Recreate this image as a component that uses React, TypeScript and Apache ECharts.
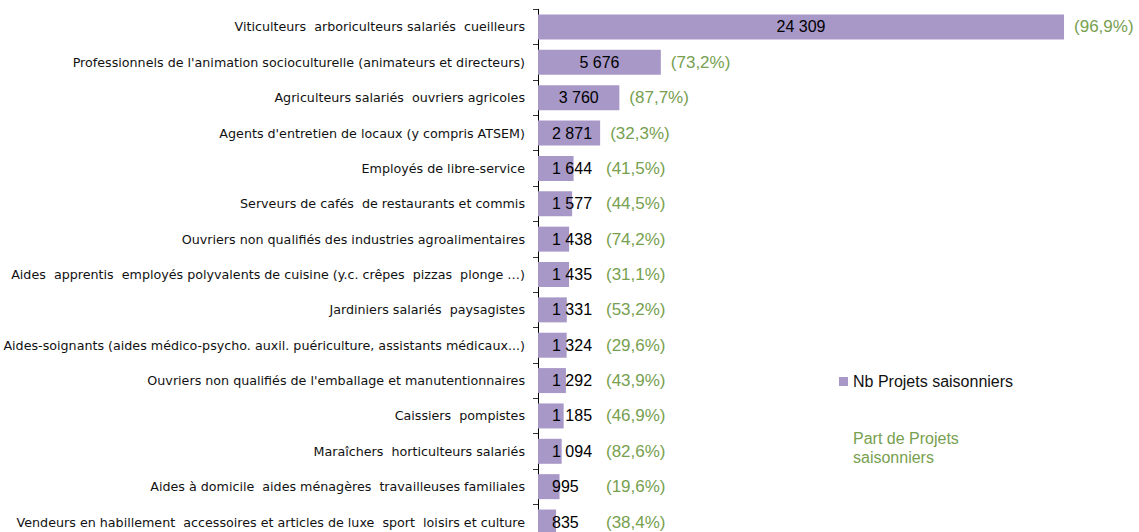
import React, { useEffect, useRef } from "react";
import * as echarts from "echarts";

const categories = [
  "Viticulteurs  arboriculteurs salariés  cueilleurs",
  "Professionnels de l'animation socioculturelle (animateurs et directeurs)",
  "Agriculteurs salariés  ouvriers agricoles",
  "Agents d'entretien de locaux (y compris ATSEM)",
  "Employés de libre-service",
  "Serveurs de cafés  de restaurants et commis",
  "Ouvriers non qualifiés des industries agroalimentaires",
  "Aides  apprentis  employés polyvalents de cuisine (y.c. crêpes  pizzas  plonge …)",
  "Jardiniers salariés  paysagistes",
  "Aides-soignants (aides médico-psycho. auxil. puériculture, assistants médicaux...)",
  "Ouvriers non qualifiés de l'emballage et manutentionnaires",
  "Caissiers  pompistes",
  "Maraîchers  horticulteurs salariés",
  "Aides à domicile  aides ménagères  travailleuses familiales",
  "Vendeurs en habillement  accessoires et articles de luxe  sport  loisirs et culture",
];

const projets = [24309, 5676, 3760, 2871, 1644, 1577, 1438, 1435, 1331, 1324, 1292, 1185, 1094, 995, 835];
const parts = [96.9, 73.2, 87.7, 32.3, 41.5, 44.5, 74.2, 31.1, 53.2, 29.6, 43.9, 46.9, 82.6, 19.6, 38.4];

const seriesNames = ["Nb Projets saisonniers", "Part de Projets saisonniers"];

const FONT = "'Liberation Sans', Arial, sans-serif";
const CAT_FONT = "'DejaVu Sans', sans-serif";
const PURPLE = "#a898c8";
const GREEN = "#77a04f";

const fmtNum = (v: number) => String(v).replace(/\B(?=(\d{3})+(?!\d))/g, " ");
const fmtPct = (p: number) => `(${p.toFixed(1).replace(".", ",")}%)`;

export default function App() {
  const ref = useRef<HTMLDivElement>(null);

  useEffect(() => {
    if (!ref.current) return;
    const chart = echarts.init(ref.current, undefined, { renderer: "svg" });

    const numberData = () =>
      projets.map((v) => ({
        value: v,
        label:
          v < 3000
            ? { position: "insideLeft" as const, distance: 14 }
            : { position: "inside" as const },
      }));

    const pctData = (offsets: number[] | null) =>
      projets.map((v, i) => ({
        value: v,
        label: { offset: [offsets ? offsets[i] : 0, 0] },
      }));

    const build = (offsets: number[] | null) => ({
      animation: false,
      backgroundColor: "#fff",
      textStyle: { fontFamily: FONT },
      grid: { left: 538, top: 9.3, width: 541, height: 530.4, containLabel: false },
      xAxis: { type: "value", min: 0, max: 25000, show: false },
      yAxis: {
        type: "category",
        inverse: true,
        data: categories,
        axisLine: { show: true, lineStyle: { color: "#000", width: 1 } },
        axisTick: { show: true, length: 5, lineStyle: { color: "#333" } },
        axisLabel: { margin: 13, fontSize: 12.7, color: "#111", fontFamily: CAT_FONT },
        splitLine: { show: false },
      },
      legend: [
        {
          data: [seriesNames[0]],
          left: 834,
          top: 367,
          orient: "vertical",
          itemWidth: 9,
          itemHeight: 9,
          icon: "rect",
          selectedMode: false,
          textStyle: { fontSize: 16, color: "#111", fontFamily: FONT, lineHeight: 19 },
        },
        {
          data: [seriesNames[1]],
          left: 834,
          top: 424,
          orient: "vertical",
          itemWidth: 9,
          itemHeight: 9,
          icon: "rect",
          selectedMode: false,
          formatter: () => "Part de Projets\nsaisonniers",
          textStyle: { fontSize: 16, color: GREEN, fontFamily: FONT, lineHeight: 19 },
        },
      ],
      series: [
        {
          name: seriesNames[0],
          type: "bar",
          barWidth: 25,
          data: numberData(),
          itemStyle: { color: PURPLE },
          label: {
            show: true,
            color: "#000",
            fontSize: 16,
            fontFamily: FONT,
            formatter: (p: any) => fmtNum(p.value),
          },
          z: 2,
        },
        {
          name: seriesNames[1],
          type: "bar",
          barWidth: 25,
          barGap: "-100%",
          data: pctData(offsets),
          itemStyle: { color: "rgba(0,0,0,0)" },
          silent: true,
          label: {
            show: true,
            position: "right",
            distance: 10,
            color: GREEN,
            fontSize: 17,
            fontFamily: FONT,
            formatter: (p: any) => fmtPct(parts[p.dataIndex]),
          },
          z: 3,
        },
      ],
    });

    chart.setOption(build(null) as any);
    const offsets = projets.map((v, i) => {
      const pt = chart.convertToPixel({ gridIndex: 0 }, [v, i]) as number[];
      const left = pt[0] + 10;
      return Math.max(0, 606 - left);
    });
    chart.setOption(build(offsets) as any);

    return () => chart.dispose();
  }, []);

  return (
    <div style={{ position: "fixed", left: 0, top: 0, width: 1139, height: 532, overflow: "hidden", background: "#fff" }}>
      <div ref={ref} style={{ width: 1139, height: 545 }} />
    </div>
  );
}
